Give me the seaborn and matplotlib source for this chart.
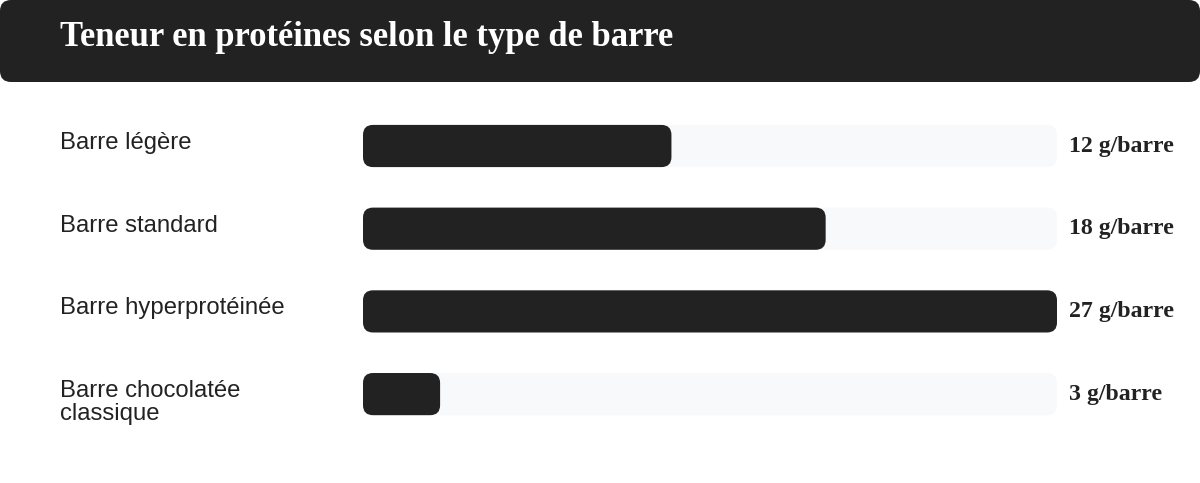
"""Protein content per bar type - horizontal rounded bar chart."""

import matplotlib
matplotlib.use("Agg")
import matplotlib.pyplot as plt
import matplotlib.transforms as mtransforms
from matplotlib.patches import FancyBboxPatch
import pandas as pd
import seaborn as sns

# Data
categories = ["Barre légère", "Barre standard", "Barre hyperprotéinée",
              "Barre chocolatée\nclassique"]
proteins = [12, 18, 27, 3]
unit = "g/barre"
title = "Teneur en protéines selon le type de barre"

DARK = "#222222"
TRACK = "#f8f9fa"
W, H = 1200, 483

sns.set_theme(style="white")
plt.rcParams["font.family"] = ["Liberation Sans", "DejaVu Sans"]

df = pd.DataFrame({"cat": categories, "val": proteins})
df["track"] = df["val"].max()

fig = plt.figure(figsize=(W / 100, H / 100), dpi=100)
fig.patch.set_facecolor("white")

# header band
hdr_h = 82 / H
fig.patches.append(FancyBboxPatch(
    (0, 1 - hdr_h), 1, hdr_h, boxstyle="round,pad=0,rounding_size=%f" % (11 / W),
    mutation_aspect=W / H, transform=fig.transFigure, facecolor=DARK,
    edgecolor="none", zorder=0))
fig.text(60 / W, 1 - 46.5 / H, title, color="white", fontsize=24.9,
         fontweight="bold", family=["Liberation Serif", "DejaVu Serif"],
         va="baseline", ha="left")

# bar area
step = 82.7
top_px = 146 - step / 2
ax = fig.add_axes([363 / W, 1 - (top_px + 4 * step) / H, 694 / W, 4 * step / H])
bw = 0.51
sns.barplot(data=df, y="cat", x="track", color=TRACK, width=bw, ax=ax,
            saturation=1, orient="h")
sns.barplot(data=df, y="cat", x="val", color=DARK, width=bw, ax=ax,
            saturation=1, orient="h")
ax.set_xlim(0, df["track"].max())
ax.set_ylim(len(categories) - 0.5, -0.5)
ax.axis("off")

# swap square rectangles for rounded ones
px_x = 694 / df["track"].max()
px_y = step
r_px = 10
rects = list(ax.patches)
for p in rects:
    x0, y0, w, h = p.get_x(), p.get_y(), p.get_width(), p.get_height()
    ax.add_patch(FancyBboxPatch(
        (x0, y0), w, h, boxstyle="round,pad=0,rounding_size=%f" % (r_px / px_x),
        mutation_aspect=px_x / px_y, facecolor=p.get_facecolor(),
        edgecolor="none", zorder=p.get_zorder()))
    p.remove()

# category labels (one text per line) and values
lab_tr = mtransforms.blended_transform_factory(fig.transFigure, ax.transData)
line_px = 22.7
for i, (cat, val) in enumerate(zip(categories, proteins)):
    for k, line in enumerate(cat.split("\n")):
        fig.text(60 / W, i - bw / 2 + (24 + k * line_px) / px_y, line,
                 transform=lab_tr, fontsize=17.2, color=DARK,
                 ha="left", va="baseline")
    fig.text(1069 / W, i + 5.5 / px_y, f"{val} {unit}", transform=lab_tr,
             fontsize=17.2, fontweight="bold", color=DARK,
             family=["Liberation Serif", "DejaVu Serif"],
             ha="left", va="baseline")

fig.savefig("out.png", dpi=100)
